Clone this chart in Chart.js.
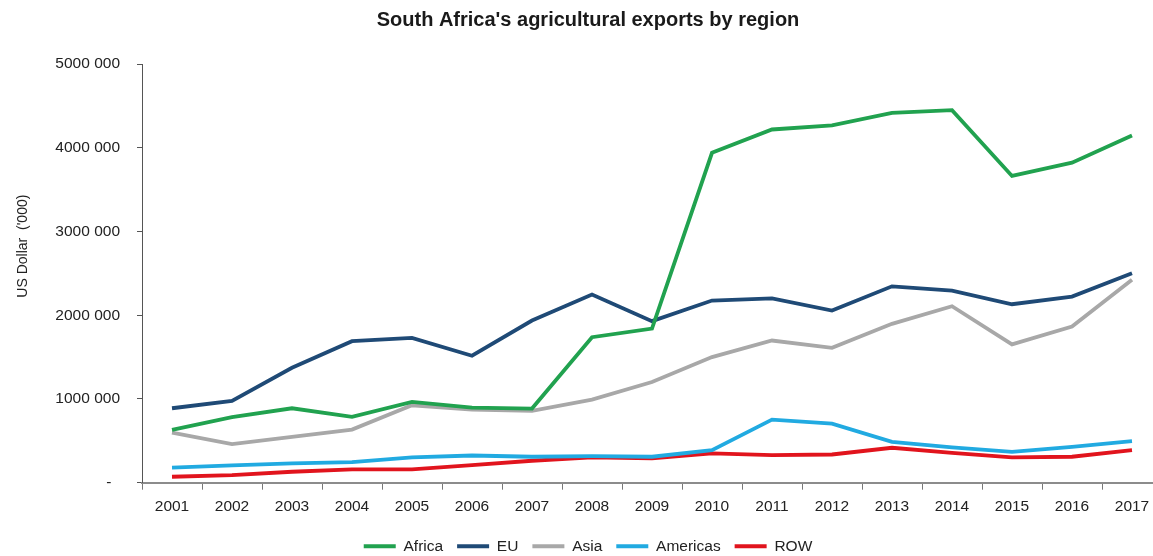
<!DOCTYPE html>
<html>
<head>
<meta charset="utf-8">
<title>South Africa's agricultural exports by region</title>
<script src="https://cdn.jsdelivr.net/npm/chart.js@4/dist/chart.umd.min.js"></script>
<style>
  html, body { margin: 0; padding: 0; background: #fff; overflow: hidden; }
  canvas { display: block; }
</style>
</head>
<body>
<canvas id="exports-chart" width="1162" height="564"></canvas>
<script>
// values in US Dollar ('000)
const years = ['2001', '2002', '2003', '2004', '2005', '2006', '2007', '2008', '2009',
  '2010', '2011', '2012', '2013', '2014', '2015', '2016', '2017'];
const africa = [631000, 782000, 889000, 786000, 964000, 897000, 885000, 1738000, 1840000,
  3940000, 4218000, 4266000, 4417000, 4448000, 3663000, 3821000, 4147000];
const eu = [889000, 976000, 1373000, 1690000, 1730000, 1516000, 1937000, 2246000, 1929000,
  2175000, 2202000, 2056000, 2345000, 2294000, 2131000, 2222000, 2500000];
const asia = [599000, 460000, 548000, 635000, 925000, 873000, 857000, 992000, 1202000,
  1500000, 1698000, 1611000, 1897000, 2107000, 1651000, 1865000, 2425000];
const americas = [179000, 206000, 230000, 246000, 302000, 325000, 310000, 317000, 310000,
  389000, 754000, 706000, 488000, 421000, 369000, 429000, 496000];
const row = [71000, 91000, 131000, 159000, 159000, 210000, 262000, 302000, 290000,
  349000, 329000, 337000, 417000, 357000, 302000, 310000, 389000];
const yTicks = [0, 1000000, 2000000, 3000000, 4000000, 5000000];
const yTitle = "US Dollar  ('000)";

const FONT = '"Liberation Sans", Arial, sans-serif';
const TEXT = '#222';

function series(label, data, color) {
  return {
    label: label,
    data: data,
    borderColor: color,
    backgroundColor: color,
    borderWidth: 3.8,
    pointRadius: 0,
    tension: 0,
    fill: false,
  };
}

// "5000 000" style, dash for zero
function fmtTick(v) {
  if (v === 0) return '-  ';
  return (v / 1000) + ' 000';
}

// y axis title sits a bit above the middle of the axis in the original
const axisTitle = {
  id: 'axisTitle',
  afterDraw(chart) {
    const { ctx, chartArea } = chart;
    const y = chartArea.top + (chartArea.bottom - chartArea.top) * 0.435;
    ctx.save();
    ctx.translate(23, y);
    ctx.rotate(-Math.PI / 2);
    ctx.font = '14px ' + FONT;
    ctx.fillStyle = TEXT;
    ctx.textAlign = 'center';
    ctx.textBaseline = 'middle';
    ctx.fillText(yTitle, 0, 0);
    ctx.restore();
  },
};

const ctx = document.getElementById('exports-chart').getContext('2d');
new Chart(ctx, {
  type: 'line',
  data: {
    labels: years,
    datasets: [
      series('Africa', africa, '#21a24f'),
      series('EU', eu, '#1f4a76'),
      series('Asia', asia, '#a8a8a8'),
      series('Americas', americas, '#21aae1'),
      series('ROW', row, '#e1141d'),
    ],
  },
  options: {
    responsive: false,
    animation: false,
    layout: { padding: { left: 14, right: 0, top: 0, bottom: 0 } },
    plugins: {
      title: {
        display: true,
        text: "South Africa's agricultural exports by region",
        color: '#1a1a1a',
        font: { family: FONT, size: 20, weight: 'bold' },
        padding: { top: 8, bottom: 32 },
      },
      legend: {
        position: 'bottom',
        labels: {
          boxWidth: 32,
          boxHeight: 4,
          padding: 14,
          color: TEXT,
          font: { family: FONT, size: 15.5 },
          generateLabels(chart) {
            const items = Chart.defaults.plugins.legend.labels.generateLabels(chart);
            items.forEach(it => { it.lineWidth = 0; });
            return items;
          },
        },
      },
      tooltip: { enabled: false },
    },
    scales: {
      x: {
        offset: true,
        grid: { offset: true, drawOnChartArea: false, tickLength: 7, color: '#777', lineWidth: 1 },
        border: { color: '#8c8c8c', width: 2 },
        ticks: { color: TEXT, font: { family: FONT, size: 15.5 }, padding: 7.5, maxRotation: 0, autoSkip: false },
        afterFit(scale) { scale.height = 41.8; },
      },
      y: {
        min: 0,
        max: 5000000,
        afterBuildTicks(scale) { scale.ticks = yTicks.map(v => ({ value: v })); },
        grid: { drawOnChartArea: false, tickLength: 5, color: '#555' },
        border: { color: '#555', width: 1 },
        ticks: { color: TEXT, font: { family: FONT, size: 15.5 }, padding: 17, callback: fmtTick },
        afterFit(scale) { scale.width = 128; },
      },
    },
  },
  plugins: [axisTitle],
});
</script>
</body>
</html>
